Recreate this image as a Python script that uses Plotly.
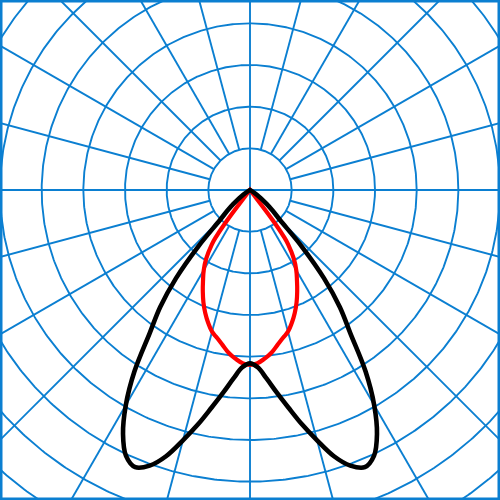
import numpy as np
import plotly.graph_objects as go

gamma_c0 = [0, 2.5, 5, 7.5, 10, 12.5, 15, 17.5, 20, 22.5, 25, 27.5, 30, 32.5, 35, 37.5,
            40, 42.5, 45, 47.5, 50, 55, 60, 65, 90]
c0_180 = [208, 213, 227, 245, 265, 288, 311, 335, 352, 360, 352, 330, 298, 258, 210, 177,
          138, 92, 51, 37, 26, 10, 2, 0, 0]

gamma_c90 = [0, 2.5, 5, 7.5, 10, 12.5, 15, 17.5, 20, 22.5, 25, 27.5, 30, 32.5, 35, 36,
             37, 37.5, 38, 90]
c90_270 = [210, 208, 203, 197, 189, 182, 176, 167, 157, 146, 134, 122, 111, 98, 80, 68,
           45, 15, 0, 0]

ring_step = 50
ring_count = 9
spoke_step = 15

GRID_COLOR = "#0b7fd1"


def full_curve(angles, values):
    # mirror the half-plane so the curve runs from -90 to +90
    g = np.array(angles, dtype=float)
    v = np.array(values, dtype=float)
    g_all = np.concatenate([-g[::-1], g[1:]])
    v_all = np.concatenate([v[::-1], v[1:]])
    rad = np.radians(g_all)
    return v_all * np.sin(rad), -v_all * np.cos(rad)


fig = go.Figure()

# polar grid: rings
t = np.linspace(0, 2 * np.pi, 721)
gx, gy = [], []
for k in range(1, ring_count + 1):
    r = k * ring_step
    gx += list(r * np.cos(t)) + [None]
    gy += list(r * np.sin(t)) + [None]

# spokes, the main axes cross the centre, the others start at the first ring
for a in range(0, 360, spoke_step):
    r0 = 0 if a % 90 == 0 else ring_step
    ar = np.radians(a)
    gx += [r0 * np.cos(ar), 1000 * np.cos(ar), None]
    gy += [r0 * np.sin(ar), 1000 * np.sin(ar), None]

fig.add_trace(go.Scatter(x=gx, y=gy, mode="lines",
                         line=dict(color=GRID_COLOR, width=1.9),
                         hoverinfo="skip", showlegend=False))

x2, y2 = full_curve(gamma_c90, c90_270)
fig.add_trace(go.Scatter(x=x2, y=y2, mode="lines", name="C90-270",
                         line=dict(color="#ff0000", width=4.2, shape="spline", smoothing=1.3),
                         showlegend=False))

x1, y1 = full_curve(gamma_c0, c0_180)
fig.add_trace(go.Scatter(x=x1, y=y1, mode="lines", name="C0-180",
                         line=dict(color="#000000", width=4.6, shape="spline", smoothing=1),
                         showlegend=False))

fig.update_layout(
    width=500, height=500,
    margin=dict(l=0, r=0, t=0, b=0),
    paper_bgcolor="white", plot_bgcolor="white",
    xaxis=dict(range=[-300, 300], visible=False, showgrid=False, zeroline=False),
    yaxis=dict(range=[-372, 228], visible=False, showgrid=False, zeroline=False,
               scaleanchor="x", scaleratio=1),
    shapes=[dict(type="rect", xref="paper", yref="paper", x0=0, y0=0, x1=1, y1=1,
                 line=dict(color=GRID_COLOR, width=5))],
)

# page margin off so the 500x500 figure fills the window
fig.write_html("out.html", config=dict(displayModeBar=False),
               post_script="document.body.style.margin='0';")
